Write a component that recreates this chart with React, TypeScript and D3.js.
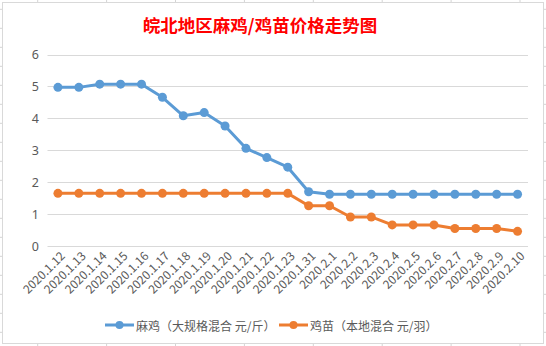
import React from "react";
import * as d3 from "d3";

const categories = [
  "2020.1.12", "2020.1.13", "2020.1.14", "2020.1.15", "2020.1.16", "2020.1.17",
  "2020.1.18", "2020.1.19", "2020.1.20", "2020.1.21", "2020.1.22", "2020.1.23",
  "2020.1.31", "2020.2.1", "2020.2.2", "2020.2.3", "2020.2.4", "2020.2.5",
  "2020.2.6", "2020.2.7", "2020.2.8", "2020.2.9", "2020.2.10",
];
const maji = [
  4.97, 4.97, 5.07, 5.07, 5.07, 4.66, 4.08, 4.18, 3.76, 3.06, 2.77, 2.47,
  1.7, 1.62, 1.62, 1.62, 1.62, 1.62, 1.62, 1.62, 1.62, 1.62, 1.62,
];
const jimiao = [
  1.65, 1.65, 1.65, 1.65, 1.65, 1.65, 1.65, 1.65, 1.65, 1.65, 1.65, 1.65,
  1.26, 1.26, 0.91, 0.91, 0.66, 0.66, 0.66, 0.55, 0.55, 0.55, 0.46,
];
const yTicks = [0, 1, 2, 3, 4, 5, 6];
const seriesNames = ["麻鸡（大规格混合 元/斤）", "鸡苗（本地混合 元/羽）"];
const title = "皖北地区麻鸡/鸡苗价格走势图";

const W = 546;
const H = 346;
const BLUE = "#5B9BD5";
const ORANGE = "#ED7D31";
const CJK = "'Noto Sans CJK SC', 'Noto Sans', sans-serif";

export default function App() {
  const x = d3.scaleBand<string>().domain(categories).range([47.5, 528]).padding(0);
  const y = d3.scaleLinear().domain([0, 6]).range([246, 54.5]);
  const cx = (c: string) => (x(c) as number) + x.bandwidth() / 2;
  const line = d3
    .line<number>()
    .x((_, i) => cx(categories[i]))
    .y((d) => y(d));

  const vCells = d3.range(0, 9).map((k) => 37.7 + 68.9 * k);
  const hCells = d3.range(0, 19).map((k) => 9.3 + 19 * k);

  const series = [
    { name: seriesNames[0], data: maji, color: BLUE },
    { name: seriesNames[1], data: jimiao, color: ORANGE },
  ];
  const legend = [
    { name: seriesNames[0], color: BLUE, x0: 105 },
    { name: seriesNames[1], color: ORANGE, x0: 279 },
  ];

  return (
    <svg
      width={W}
      height={H}
      style={{ position: "absolute", left: 0, top: 0, display: "block" }}
    >
      <rect x={0} y={0} width={W} height={H} fill="#fff" />
      {vCells.map((v, i) => (
        <line key={"v" + i} x1={v} x2={v} y1={0} y2={H} stroke="#d4d4d4" />
      ))}
      {hCells.map((v, i) => (
        <line key={"h" + i} x1={0} x2={W} y1={v} y2={v} stroke="#d4d4d4" />
      ))}
      <rect x={2.5} y={2.5} width={541} height={341} fill="#fff" stroke="#d9d9d9" />
      <text
        x={260}
        y={24}
        textAnchor="middle"
        dominantBaseline="central"
        fill="#FF0000"
        fontFamily={CJK}
        fontWeight="bold"
        fontSize={17.5}
      >
        {title}
      </text>
      {yTicks.map((t) => (
        <g key={t}>
          <line x1={47.5} x2={528} y1={Math.round(y(t)) + 0.5} y2={Math.round(y(t)) + 0.5} stroke="#d9d9d9" />
          <text
            x={39}
            y={y(t)}
            textAnchor="end"
            dominantBaseline="central"
            fill="#595959"
            fontFamily="'Noto Sans', sans-serif"
            fontSize={12.5}
          >
            {t}
          </text>
        </g>
      ))}
      {categories.map((c) => (
        <text
          key={c}
          transform={`translate(${cx(c) + 4},${253}) rotate(-45)`}
          textAnchor="end"
          dominantBaseline="central"
          fill="#595959"
          fontFamily={CJK}
          fontSize={12}
        >
          {c}
        </text>
      ))}
      {series.map((s) => (
        <g key={s.name}>
          <path d={line(s.data) || ""} fill="none" stroke={s.color} strokeWidth={3} strokeLinejoin="round" />
          {s.data.map((v, i) => (
            <circle key={i} cx={cx(categories[i])} cy={y(v)} r={4.5} fill={s.color} />
          ))}
        </g>
      ))}
      {legend.map((l) => (
        <g key={l.name}>
          <line x1={l.x0} x2={l.x0 + 29} y1={325} y2={325} stroke={l.color} strokeWidth={3} />
          <circle cx={l.x0 + 14.5} cy={325} r={4} fill={l.color} />
          <text
            x={l.x0 + 31}
            y={325}
            dominantBaseline="central"
            fill="#595959"
            fontFamily={CJK}
            fontSize={12}
          >
            {l.name}
          </text>
        </g>
      ))}
    </svg>
  );
}
